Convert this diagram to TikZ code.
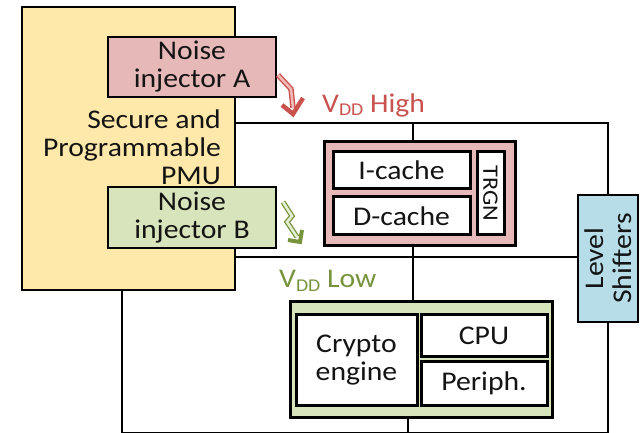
\documentclass[tikz,border=0pt]{standalone}
\usepackage{fontspec}
\setmainfont{Carlito}[FakeStretch=1.1]
\newcommand\bigtxt{\fontsize{27}{28}\selectfont}
\definecolor{pmuY}{HTML}{FFE9AA}
\definecolor{pinkA}{HTML}{E6B9B8}
\definecolor{greenB}{HTML}{D8E4BC}
\definecolor{lsBlue}{HTML}{B7DDE8}
\definecolor{redT}{HTML}{C9524E}
\definecolor{redIn}{HTML}{F2B8B5}
\definecolor{greenT}{HTML}{77933C}
\definecolor{greenIn}{HTML}{E6EED3}
\definecolor{txtC}{HTML}{141414}
\begin{document}
\begin{tikzpicture}[x=1pt,y=-1pt,
  box/.style={draw=black, line width=2.6pt, inner sep=0pt, align=center, font=\bigtxt, text=txtC},
  inbox/.style={box, fill=white, line width=3pt},
  txt/.style={inner sep=0pt, font=\bigtxt, text=txtC},
  wire/.style={line width=2pt, draw=black},
  redarr/.style={draw=redT, double=redIn, line width=1.4pt, double distance=2.6pt, line join=miter},
  grnarr/.style={draw=greenT, double=greenIn, line width=1.3pt, double distance=2.6pt, line join=miter},
  redtip/.style={draw=redT, line width=4.5pt, line join=miter},
  grntip/.style={draw=greenT, line width=4pt, line join=miter}]
\useasboundingbox (0,0) rectangle (641,433);

% PMU block
\node[box, fill=pmuY, minimum width=213pt, minimum height=283pt] (pmu) at (128.5,148.5) {};
\node[txt, anchor=east, align=right] (pmut) at (221,147) {Secure and\\Programmable\\PMU};
\node[box, fill=pinkA, minimum width=168pt, minimum height=60pt] (na) at (192,67) {Noise\\injector A};
\node[box, fill=greenB, minimum width=168pt, minimum height=61pt] (nb) at (192,217.5) {Noise\\injector B};

% cache block
\node[box, fill=pinkA, line width=3pt, minimum width=191pt, minimum height=104pt] (cache) at (419.5,194) {};
\node[inbox, minimum width=137pt, minimum height=37pt] (ic) at (401.5,170.5) {I-cache};
\node[inbox, minimum width=137pt, minimum height=38pt] (dc) at (401.5,216) {D-cache};
\node[inbox, minimum width=27pt, minimum height=83pt] (trgn) at (490.5,193.5) {};
\node[txt, rotate=-90, font=\fontsize{22}{22}\selectfont] (trgnt) at (trgn.center) {TRGN};

% engine block
\node[box, fill=greenB, line width=3pt, minimum width=262pt, minimum height=115pt] (eng) at (421,359.5) {};
\node[inbox, minimum width=121pt, minimum height=90pt] (cry) at (356.5,360) {Crypto\\engine};
\node[inbox, minimum width=126pt, minimum height=42pt] (cpu) at (484,336) {CPU};
\node[inbox, minimum width=126pt, minimum height=43pt] (per) at (484,383.5) {Periph.};

% level shifters
\node[box, fill=lsBlue, minimum width=60pt, minimum height=127pt] (ls) at (608,258.5) {};
\node[txt, rotate=90, align=center] (lst) at (ls.center) {Level\\Shifters};

% rails
\coordinate (hi) at (0,123);
\coordinate (lo) at (0,257);
\coordinate (bot) at (0,432.5);
\coordinate (cx) at (413,0);
\coordinate (gx) at (408,0);
\coordinate (px) at (122,0);
\draw[wire] (pmu.east |- hi) -- (hi -| ls.north) -- (ls.north);
\draw[wire] (hi -| cx) -- (cache.north -| cx);
\draw[wire] (cache.south -| cx) -- (eng.north -| cx);
\draw[wire] (pmu.east |- lo) -- (ls.west |- lo);
\draw[wire] (pmu.south -| px) -- (bot -| px) -- (bot -| ls.south) -- (ls.south);
\draw[wire] (eng.south -| gx) -- (bot -| gx);

% labels
\node[txt, anchor=base west, text=redT] (vh) at (322,113) {V\raisebox{-3pt}{\fontsize{18}{18}\selectfont DD} High};
\node[txt, anchor=base west, text=greenT] (vl) at (279,288) {V\raisebox{-3pt}{\fontsize{18}{18}\selectfont DD} Low};

% noise arrows
\coordinate (ra0) at (278,75);
\coordinate (ra1) at (291,89);
\coordinate (ra2) at (293,108);
\coordinate (rt) at (293,114);
\coordinate (rl) at (282,105);
\coordinate (rr) at (303,98);
\draw[redarr] (ra0) -- (ra1) -- (ra2);
\draw[redtip] (rl) -- (rt) -- (rr);

\coordinate (ga0) at (283,202);
\coordinate (ga1) at (292,216);
\coordinate (ga2) at (287,222);
\coordinate (ga3) at (297,237);
\coordinate (gt) at (300,242);
\coordinate (gl) at (302,230);
\coordinate (gr) at (288,240);
\draw[grnarr] (ga0) -- (ga1) -- (ga2) -- (ga3);
\draw[grntip] (gl) -- (gt) -- (gr);
\end{tikzpicture}
\end{document}
